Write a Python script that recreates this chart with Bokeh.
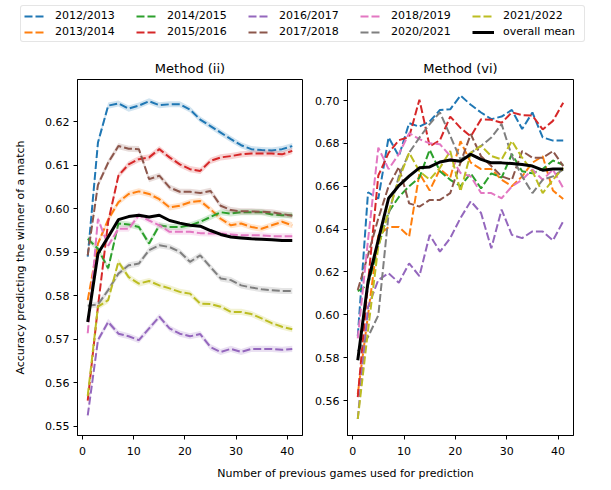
from bokeh.plotting import figure
from bokeh.layouts import column, row
from bokeh.models import Range1d, FixedTicker, PrintfTickFormatter, Legend, LegendItem, Label
from bokeh.embed import file_html
from bokeh.resources import INLINE

# ---------------- data ----------------
x_games = [1, 3, 5, 7, 9, 11, 13, 15, 17, 19, 21, 23, 25, 27, 29, 31, 33, 35, 37, 39, 41]

seasons = ["2012/2013", "2013/2014", "2014/2015", "2015/2016", "2016/2017",
           "2017/2018", "2018/2019", "2020/2021", "2021/2022"]
colors = ["#1f77b4", "#ff7f0e", "#2ca02c", "#d62728", "#9467bd",
          "#8c564b", "#e377c2", "#7f7f7f", "#bcbd22"]

# Method (ii)
ii_2012 = [0.5890, 0.6152, 0.6237, 0.6242, 0.6230, 0.6237, 0.6247, 0.6238, 0.6240, 0.6240, 0.6228,
           0.6205, 0.6190, 0.6175, 0.6160, 0.6146, 0.6137, 0.6135, 0.6134, 0.6137, 0.6144]
ii_2013 = [0.5790, 0.5920, 0.5975, 0.6015, 0.6034, 0.6040, 0.6034, 0.6022, 0.6003, 0.6007, 0.6015,
           0.6018, 0.5999, 0.5977, 0.5962, 0.5966, 0.5958, 0.5954, 0.5962, 0.5970, 0.5962]
ii_2014 = [0.5931, 0.5908, 0.5863, 0.5966, 0.5964, 0.5958, 0.5920, 0.5962, 0.5958, 0.5958, 0.5962,
           0.5970, 0.5981, 0.5992, 0.5989, 0.5992, 0.5992, 0.5992, 0.5987, 0.5985, 0.5985]
ii_2015 = [0.5559, 0.5775, 0.5970, 0.6076, 0.6102, 0.6114, 0.6118, 0.6137, 0.6118, 0.6102, 0.6091,
           0.6087, 0.6110, 0.6118, 0.6121, 0.6125, 0.6127, 0.6127, 0.6127, 0.6125, 0.6133]
ii_2016 = [0.5525, 0.5698, 0.5740, 0.5713, 0.5707, 0.5698, 0.5725, 0.5752, 0.5725, 0.5713, 0.5707,
           0.5712, 0.5682, 0.5671, 0.5678, 0.5671, 0.5678, 0.5678, 0.5678, 0.5676, 0.5678]
ii_2017 = [0.5893, 0.6055, 0.6106, 0.6144, 0.6138, 0.6137, 0.6068, 0.6076, 0.6049, 0.6039, 0.6039,
           0.6036, 0.6041, 0.6007, 0.5997, 0.5994, 0.5994, 0.5993, 0.5992, 0.5988, 0.5984]
ii_2018 = [0.5714, 0.5977, 0.5915, 0.5954, 0.5954, 0.5985, 0.5973, 0.5962, 0.5947, 0.5947, 0.5947,
           0.5944, 0.5943, 0.5943, 0.5941, 0.5939, 0.5939, 0.5939, 0.5937, 0.5937, 0.5937]
ii_2020 = [0.5777, 0.5780, 0.5813, 0.5851, 0.5870, 0.5874, 0.5905, 0.5916, 0.5912, 0.5901, 0.5878,
           0.5893, 0.5866, 0.5840, 0.5836, 0.5824, 0.5819, 0.5815, 0.5813, 0.5811, 0.5811]
ii_2021 = [0.5570, 0.5775, 0.5790, 0.5878, 0.5843, 0.5828, 0.5834, 0.5824, 0.5817, 0.5809, 0.5805,
           0.5782, 0.5781, 0.5775, 0.5763, 0.5763, 0.5758, 0.5748, 0.5737, 0.5729, 0.5723]
ii_mean = [0.5740, 0.5897, 0.5935, 0.5975, 0.5982, 0.5985, 0.5981, 0.5985, 0.5973, 0.5967, 0.5962,
           0.5960, 0.5950, 0.5941, 0.5935, 0.5933, 0.5931, 0.5930, 0.5929, 0.5927, 0.5927]
ii_band = 0.0007  # half-width of the shaded band

# Method (vi)
vi_2012 = [0.5900, 0.6572, 0.6542, 0.6828, 0.6740, 0.6894, 0.6878, 0.6902, 0.6956, 0.6959, 0.7023,
           0.6980, 0.6944, 0.6913, 0.6925, 0.6956, 0.6867, 0.6944, 0.6828, 0.6813, 0.6813]
vi_2013 = [0.5630, 0.6000, 0.6370, 0.6410, 0.6410, 0.6365, 0.6660, 0.6580, 0.6680, 0.6640, 0.6810,
           0.6710, 0.6680, 0.6680, 0.6630, 0.6600, 0.6646, 0.6710, 0.6740, 0.6580, 0.6540]
vi_2014 = [0.6110, 0.6140, 0.6320, 0.6480, 0.6550, 0.6600, 0.6640, 0.6770, 0.6670, 0.6630, 0.6600,
           0.6660, 0.6590, 0.6660, 0.6640, 0.6750, 0.6670, 0.6660, 0.6680, 0.6720, 0.6700]
vi_2015 = [0.5616, 0.6150, 0.6650, 0.6756, 0.6815, 0.6830, 0.7004, 0.6786, 0.6815, 0.6925, 0.6872,
           0.6833, 0.6912, 0.6910, 0.6896, 0.6945, 0.6932, 0.6930, 0.6865, 0.6905, 0.6990]
vi_2016 = [0.5514, 0.6037, 0.6163, 0.6194, 0.6150, 0.6240, 0.6181, 0.6373, 0.6295, 0.6358, 0.6452,
           0.6530, 0.6475, 0.6311, 0.6491, 0.6373, 0.6358, 0.6389, 0.6389, 0.6347, 0.6436]
vi_2017 = [0.6116, 0.6280, 0.6450, 0.6600, 0.6690, 0.6520, 0.6505, 0.6536, 0.6536, 0.6568, 0.6710,
           0.6843, 0.6740, 0.6694, 0.6646, 0.6630, 0.6764, 0.6733, 0.6733, 0.6764, 0.6694]
vi_2018 = [0.5890, 0.6350, 0.6780, 0.6680, 0.6750, 0.6848, 0.6820, 0.6800, 0.6796, 0.6741, 0.6662,
           0.6646, 0.6568, 0.6568, 0.6544, 0.6599, 0.6630, 0.6678, 0.6630, 0.6678, 0.6591]
vi_2020 = [0.5830, 0.5897, 0.5998, 0.6470, 0.6646, 0.6756, 0.6827, 0.6890, 0.6945, 0.6835, 0.6725,
           0.6756, 0.6788, 0.6827, 0.6890, 0.6741, 0.6646, 0.6568, 0.6630, 0.6646, 0.6678]
vi_2021 = [0.5514, 0.5928, 0.6320, 0.6481, 0.6631, 0.6756, 0.6670, 0.6631, 0.6686, 0.6764, 0.6576,
           0.6756, 0.6788, 0.6741, 0.6725, 0.6811, 0.6733, 0.6670, 0.6568, 0.6630, 0.6686]
vi_mean = [0.5788, 0.6155, 0.6350, 0.6544, 0.6603, 0.6647, 0.6686, 0.6690, 0.6713, 0.6722, 0.6717,
           0.6749, 0.6725, 0.6709, 0.6709, 0.6706, 0.6701, 0.6694, 0.6675, 0.6680, 0.6680]

ii_series = [ii_2012, ii_2013, ii_2014, ii_2015, ii_2016, ii_2017, ii_2018, ii_2020, ii_2021]
vi_series = [vi_2012, vi_2013, vi_2014, vi_2015, vi_2016, vi_2017, vi_2018, vi_2020, vi_2021]

ii_ticks = [0.55, 0.56, 0.57, 0.58, 0.59, 0.60, 0.61, 0.62]
vi_ticks = [0.56, 0.58, 0.60, 0.62, 0.64, 0.66, 0.68, 0.70]
x_ticks = [0, 10, 20, 30, 40]

FONT = "DejaVu Sans"
DASH = "8 3"
LW = 2
MEAN_LW = 3


def style_panel(p, yticks):
    p.title.align = "center"
    p.title.text_font = FONT
    p.title.text_font_size = "13px"
    p.title.text_font_style = "normal"
    p.title.text_color = "black"
    p.title.standoff = 8
    p.outline_line_color = "black"
    p.outline_line_width = 1
    p.grid.visible = False
    p.xaxis.ticker = FixedTicker(ticks=x_ticks)
    p.yaxis.ticker = FixedTicker(ticks=yticks)
    p.yaxis.formatter = PrintfTickFormatter(format="%.2f")
    for ax in p.axis:
        ax.major_tick_out = 4
        ax.major_tick_in = 0
        ax.minor_tick_out = 0
        ax.minor_tick_in = 0
        ax.axis_line_color = "black"
        ax.major_tick_line_color = "black"
        ax.major_label_text_font = FONT
        ax.major_label_text_font_size = "11px"
        ax.major_label_text_color = "black"
        ax.major_label_standoff = 4
    p.xaxis.major_label_standoff = 7


# ---------------- left panel ----------------
p1 = figure(frame_width=225, frame_height=356, x_range=Range1d(-1, 43), y_range=Range1d(0.5479, 0.6297),
            title="Method (ii)", output_backend="svg", toolbar_location=None,
            min_border_left=77, min_border_right=5, min_border_top=22, min_border_bottom=26)
style_panel(p1, ii_ticks)
p1.yaxis.axis_label = "Accuracy predicting the winner of a match"
p1.yaxis.axis_label_text_font = FONT
p1.yaxis.axis_label_text_font_size = "11px"
p1.yaxis.axis_label_text_font_style = "normal"
p1.yaxis.axis_label_text_color = "black"
p1.yaxis.axis_label_standoff = 15

for vals, c in zip(ii_series, colors):
    lo = [v - ii_band for v in vals]
    hi = [v + ii_band for v in vals]
    p1.varea(x=x_games, y1=lo, y2=hi, fill_color=c, fill_alpha=0.2)
    p1.line(x_games, vals, line_color=c, line_width=LW, line_dash=DASH)
p1.line(x_games, ii_mean, line_color="black", line_width=MEAN_LW)

# ---------------- right panel ----------------
p2 = figure(frame_width=226, frame_height=356, x_range=Range1d(-1, 43), y_range=Range1d(0.5437, 0.7098),
            title="Method (vi)", output_backend="svg", toolbar_location=None,
            min_border_left=40, min_border_right=10, min_border_top=22, min_border_bottom=26)
style_panel(p2, vi_ticks)
for vals, c in zip(vi_series, colors):
    p2.line(x_games, vals, line_color=c, line_width=LW, line_dash=DASH)
p2.line(x_games, vi_mean, line_color="black", line_width=MEAN_LW)

# ---------------- legend strip (same series, drawn outside its visible range) ----------------
pl = figure(width=600, height=54, x_range=Range1d(100, 101), y_range=Range1d(100, 101),
            output_backend="svg", toolbar_location=None,
            min_border_left=20, min_border_right=0, min_border_top=5, min_border_bottom=0)
pl.outline_line_color = None
pl.axis.visible = False
pl.grid.visible = False
items = []
for s, c, vals in zip(seasons, colors, ii_series):
    r = pl.line(x_games, vals, line_color=c, line_width=LW, line_dash=DASH)
    items.append(LegendItem(label=s, renderers=[r]))
rm = pl.line(x_games, ii_mean, line_color="black", line_width=MEAN_LW)
items.append(LegendItem(label="overall mean", renderers=[rm]))
leg = Legend(items=items, location="top_left", orientation="vertical", nrows=2,
             margin=0, padding=3, spacing=3, glyph_width=22, glyph_height=12,
             label_height=12, label_width=78, label_standoff=9,
             label_text_font=FONT, label_text_font_size="11px", label_text_color="black",
             border_line_color="#cccccc", border_line_width=1, background_fill_alpha=0.8)
if "border_radius" in Legend.properties():
    leg.border_radius = 3
pl.add_layout(leg)

# ---------------- x label strip ----------------
px = figure(width=600, height=24, x_range=Range1d(0, 1), y_range=Range1d(0, 1),
            output_backend="svg", toolbar_location=None,
            min_border_left=0, min_border_right=0, min_border_top=0, min_border_bottom=0)
px.outline_line_color = None
px.axis.visible = False
px.grid.visible = False
px.add_layout(Label(x=325, y=12, x_units="screen", y_units="screen",
                    text="Number of previous games used for prediction",
                    text_align="center", text_baseline="middle",
                    text_font=FONT, text_font_size="11px", text_color="black"))

layout = column(pl, row(p1, p2), px)
open("out.html", "w").write(file_html(layout, INLINE))
